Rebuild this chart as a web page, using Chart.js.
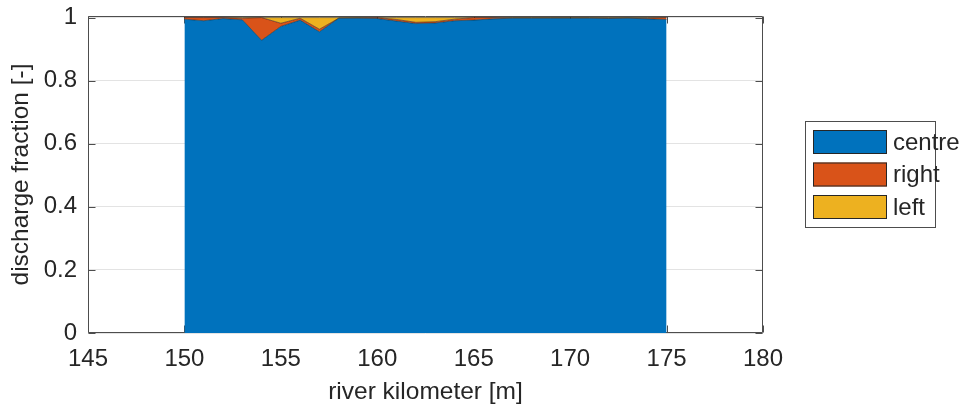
<!DOCTYPE html>
<html>
<head>
<meta charset="utf-8">
<script src="https://cdn.jsdelivr.net/npm/chart.js@4/dist/chart.umd.min.js"></script>
<style>
  html, body { margin: 0; padding: 0; background: #fff; }
  #wrap { width: 964px; height: 408px; }
</style>
</head>
<body>
<div id="wrap"><canvas id="myChart" width="964" height="408"></canvas></div>
<script>
// river kilometres and discharge fractions per channel section
const km = [150, 151, 152, 153, 154, 155, 156, 157, 158, 159, 160, 161, 162,
  163, 164, 165, 166, 167, 168, 169, 170, 171, 172, 173, 174, 175];
const centre = [0.995, 0.990, 0.997, 0.993, 0.928, 0.972, 0.992, 0.955, 0.998, 0.998, 0.997, 0.989, 0.981,
  0.983, 0.990, 0.992, 0.996, 0.998, 0.998, 0.998, 0.998, 0.998, 0.997, 0.998, 0.996, 0.994];
const right = [0.005, 0.010, 0.003, 0.005, 0.072, 0.010, 0.006, 0.008, 0.000, 0.001, 0.003, 0.005, 0.004,
  0.004, 0.005, 0.008, 0.004, 0.001, 0.001, 0.001, 0.001, 0.001, 0.002, 0.001, 0.003, 0.006];
const left = [0.000, 0.000, 0.000, 0.002, 0.000, 0.018, 0.002, 0.037, 0.002, 0.001, 0.000, 0.006, 0.015,
  0.013, 0.005, 0.000, 0.000, 0.001, 0.001, 0.001, 0.001, 0.001, 0.001, 0.001, 0.001, 0.000];

const xTicks = [145, 150, 155, 160, 165, 170, 175, 180];
const yTicks = [0, 0.2, 0.4, 0.6, 0.8, 1];

const names = ["centre", "right", "left"];
const colors = ["#0072BD", "#D95319", "#EDB120"];

const FONT = "'Liberation Sans', Arial, sans-serif";
const TXT = "#262626";
const TICK_SIZE = 24;
const LABEL_SIZE = 24.5;

const pts = (arr) => arr.map((v, i) => ({ x: km[i], y: v }));

// axes box and inward tick marks, drawn underneath the areas
const axesBox = {
  id: "axesBox",
  beforeDatasetsDraw(chart) {
    const { ctx, chartArea: a, scales } = chart;
    ctx.save();
    ctx.strokeStyle = "#4d4d4d";
    ctx.lineWidth = 1;
    const L = Math.round(a.left) + 0.5, R = Math.round(a.right) - 0.5;
    const T = Math.round(a.top) + 0.5, B = Math.round(a.bottom) - 0.5;
    ctx.beginPath();
    ctx.rect(L, T, R - L, B - T);
    const tl = 7;
    xTicks.forEach((t) => {
      const x = Math.round(scales.x.getPixelForValue(t)) + 0.5;
      ctx.moveTo(x, B); ctx.lineTo(x, B - tl);
      ctx.moveTo(x, T); ctx.lineTo(x, T + tl);
    });
    yTicks.forEach((t) => {
      const y = Math.round(scales.y.getPixelForValue(t)) + 0.5;
      ctx.moveTo(L, y); ctx.lineTo(L + tl, y);
      ctx.moveTo(R, y); ctx.lineTo(R - tl, y);
    });
    ctx.stroke();
    ctx.restore();
  },
};

// boxed legend to the right of the axes
const boxLegend = {
  id: "boxLegend",
  afterDraw(chart) {
    const { ctx } = chart;
    const bx = 805, by = 121, bw = 130, bh = 106;
    ctx.save();
    ctx.fillStyle = "#fff";
    ctx.fillRect(bx, by, bw, bh);
    ctx.strokeStyle = "#4d4d4d";
    ctx.lineWidth = 1;
    ctx.strokeRect(bx + 0.5, by + 0.5, bw, bh);
    ctx.font = TICK_SIZE + "px " + FONT;
    ctx.textBaseline = "middle";
    chart.data.datasets.forEach((ds, i) => {
      const y = by + 9 + i * 32.5;
      ctx.fillStyle = ds.backgroundColor;
      ctx.fillRect(bx + 8, y, 74, 24);
      ctx.strokeStyle = "#262626";
      ctx.strokeRect(bx + 8.5, y + 0.5, 73, 23);
      ctx.fillStyle = TXT;
      ctx.fillText(ds.label, bx + 88, y + 13);
    });
    ctx.restore();
  },
};

const mkSet = (i, arr) => ({
  label: names[i],
  data: pts(arr),
  backgroundColor: colors[i],
  borderColor: "rgba(20,20,20,0.8)",
  borderWidth: 0.6,
  fill: i === 0 ? "origin" : "-1",
  pointRadius: 0,
  tension: 0,
});

new Chart(document.getElementById("myChart"), {
  type: "line",
  data: {
    datasets: [mkSet(0, centre), mkSet(1, right), mkSet(2, left)],
  },
  options: {
    responsive: false,
    animation: false,
    layout: { padding: { top: 16, right: 201, left: 0, bottom: 0 } },
    plugins: {
      legend: { display: false },
      tooltip: { enabled: false },
      filler: { propagate: false },
    },
    scales: {
      x: {
        type: "linear",
        min: 145,
        max: 180,
        afterBuildTicks: (s) => { s.ticks = xTicks.map((v) => ({ value: v })); },
        afterFit: (s) => { s.height = 75; s.paddingLeft = 0; s.paddingRight = 0; },
        grid: { display: false, drawTicks: false },
        border: { display: false },
        ticks: { color: TXT, font: { family: FONT, size: TICK_SIZE }, padding: 12, maxRotation: 0 },
        title: {
          display: true,
          text: "river kilometer [m]",
          color: TXT,
          font: { family: FONT, size: LABEL_SIZE },
          padding: { top: 0, bottom: 1 },
        },
      },
      y: {
        stacked: true,
        min: 0,
        max: 1.005,
        afterBuildTicks: (s) => { s.ticks = yTicks.map((v) => ({ value: v })); },
        afterFit: (s) => { s.width = 88; s.paddingTop = 0; s.paddingBottom = 0; },
        grid: { color: "#e3e3e3", lineWidth: 1, drawTicks: false },
        border: { display: false },
        ticks: {
          color: TXT,
          font: { family: FONT, size: TICK_SIZE },
          padding: 11,
          callback: (v) => String(v),
        },
        title: {
          display: true,
          text: "discharge fraction [-]",
          color: TXT,
          font: { family: FONT, size: LABEL_SIZE },
          padding: { top: 7, bottom: 0 },
        },
      },
    },
  },
  plugins: [axesBox, boxLegend],
});
</script>
</body>
</html>
